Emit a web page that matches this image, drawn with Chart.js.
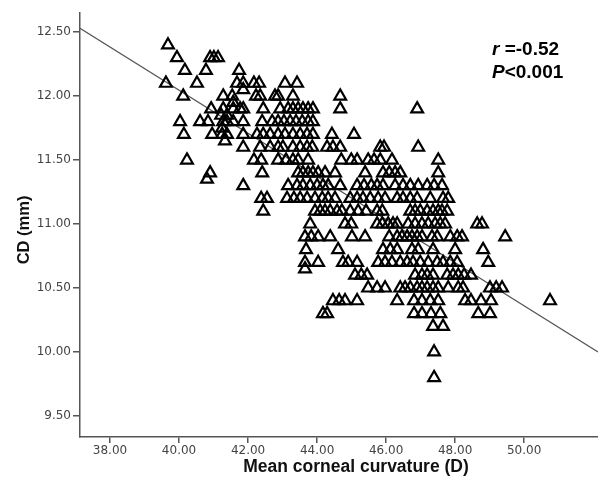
<!DOCTYPE html>
<html>
<head>
<meta charset="utf-8">
<script src="https://cdn.jsdelivr.net/npm/chart.js@4.4.1/dist/chart.umd.min.js"></script>
<style>
  html, body { margin: 0; padding: 0; background: #fff; overflow: hidden; }
  #wrap { width: 598px; height: 478px; position: relative; }
</style>
</head>
<body>
<div id="wrap"><canvas id="scatter"></canvas></div>
<script>
// === data ===
// CD (mm) level of each row of points
const cdLevels = [12.4, 12.3, 12.2, 12.1, 12.05, 12.0, 11.95, 11.9, 11.85, 11.8, 11.75, 11.7, 11.65, 11.6,
  11.5, 11.4, 11.35, 11.3, 11.2, 11.1, 11.0, 10.9, 10.8, 10.7, 10.65, 10.6, 10.5, 10.4, 10.3, 10.2, 10.0, 9.8];

// mean corneal curvature (D) of each point, one list per CD row
const kRows = [
  [39.68],
  [39.94, 40.90, 41.01, 41.13],
  [40.17, 40.78, 41.74],
  [39.62, 40.52, 41.68, 41.86, 42.17, 42.32, 43.07, 43.42],
  [41.86],
  [40.12, 41.28, 41.54, 42.23, 42.35, 42.78, 42.87, 43.30, 44.67],
  [41.57],
  [40.93, 41.28, 41.57, 41.77, 41.86, 42.44, 42.93, 43.16, 43.30, 43.45, 43.59, 43.74, 43.88, 44.67, 46.90],
  [41.22, 41.39],
  [40.03, 40.61, 40.84, 41.28, 41.39, 41.57, 41.86, 42.41, 42.70, 42.87, 43.04, 43.22, 43.39, 43.57, 43.74, 43.88],
  [41.25],
  [40.14, 40.96, 41.25, 41.39, 41.86, 42.26, 42.44, 42.64, 42.87, 43.07, 43.30, 43.51, 43.71, 43.88, 44.43, 45.07],
  [41.33],
  [41.86, 42.35, 42.64, 42.87, 43.01, 43.30, 43.51, 43.71, 43.86, 44.29, 44.46, 44.67, 45.83, 45.94, 46.93],
  [40.23, 42.17, 42.38, 42.87, 43.10, 43.30, 43.45, 43.74, 44.70, 44.99, 45.16, 45.48, 45.65, 45.83, 46.17, 47.51],
  [40.90, 42.41, 43.45, 43.59, 43.74, 43.88, 44.03, 44.23, 44.52, 45.39, 45.91, 46.09, 46.26, 46.41, 47.51],
  [40.81],
  [41.86, 43.16, 43.42, 43.59, 43.80, 44.00, 44.17, 44.32, 44.67, 45.16, 45.36, 45.57, 45.74, 45.91, 46.26, 46.49, 46.70, 46.93, 47.19, 47.39, 47.62],
  [42.38, 42.55, 43.13, 43.33, 43.51, 43.71, 43.94, 44.15, 44.32, 44.52, 44.96, 45.16, 45.33, 45.54, 45.77, 45.97, 46.32, 46.49, 46.70, 46.90, 47.28, 47.65, 47.80],
  [42.44, 43.94, 44.09, 44.23, 44.38, 44.58, 44.72, 44.96, 45.19, 45.42, 45.74, 45.89, 46.70, 46.84, 46.99, 47.19, 47.36, 47.51, 47.62, 47.77],
  [43.80, 44.81, 44.99, 45.74, 45.89, 46.06, 46.20, 46.32, 46.64, 46.84, 47.04, 47.22, 47.42, 47.57, 47.71, 48.64, 48.78],
  [43.65, 43.83, 44.03, 44.38, 45.01, 45.39, 46.09, 46.32, 46.46, 46.61, 46.75, 46.90, 47.04, 47.33, 47.48, 47.86, 48.06, 48.20, 49.45],
  [43.68, 44.61, 45.91, 46.12, 46.32, 46.75, 46.93, 47.36, 48.00, 48.81],
  [43.65, 44.03, 44.75, 44.90, 45.16, 45.77, 45.97, 46.17, 46.41, 46.61, 46.78, 46.99, 47.22, 47.48, 47.65, 47.86, 48.06, 48.96],
  [43.65],
  [45.10, 45.28, 45.45, 46.84, 47.04, 47.19, 47.36, 47.77, 47.94, 48.09, 48.26, 48.46],
  [45.48, 45.74, 45.97, 46.41, 46.55, 46.70, 46.90, 47.04, 47.19, 47.36, 47.51, 47.80, 48.09, 48.23, 49.01, 49.19, 49.36],
  [44.46, 44.64, 44.81, 45.16, 46.32, 46.81, 47.04, 47.28, 47.51, 48.29, 48.46, 48.75, 49.04, 50.75],
  [44.17, 44.29, 46.81, 47.04, 47.30, 47.57, 48.67, 49.01],
  [47.36, 47.65],
  [47.39],
  [47.39]
];

// fit line end points (left and right edge of the plot)
const fitK  = [37.13, 52.14];
const fitCD = [12.53, 10.00];

// axis ranges and tick values
const kMin = 37.13, kMax = 52.14;
const cdMin = 9.336, cdMax = 12.65;
const kTicks  = [38, 40, 42, 44, 46, 48, 50];
const cdTicks = [9.5, 10.0, 10.5, 11.0, 11.5, 12.0, 12.5];

// === build the point list ===
const points = [];
kRows.forEach((row, i) => {
  row.forEach(k => points.push({ x: k, y: cdLevels[i] }));
});
const fitLine = fitK.map((k, i) => ({ x: k, y: fitCD[i] }));

// r / P text in the upper right corner + axis titles
const extraText = {
  id: 'extraText',
  afterDraw(chart){
    const c = chart.ctx;
    c.save();
    c.fillStyle = '#000';
    c.textBaseline = 'alphabetic';
    c.textAlign = 'left';
    c.font = 'italic bold 19px "Liberation Sans"';
    c.fillText('r', 492, 55);
    let w = c.measureText('r').width;
    c.font = 'bold 19px "Liberation Sans"';
    c.fillText(' =-0.52', 492 + w, 55);
    c.font = 'italic bold 19px "Liberation Sans"';
    c.fillText('P', 492, 78);
    w = c.measureText('P').width;
    c.font = 'bold 19px "Liberation Sans"';
    c.fillText('<0.001', 492 + w, 78);

    // axis titles
    c.fillStyle = '#111';
    c.textAlign = 'center';
    c.textBaseline = 'middle';
    c.font = 'bold 17.5px "Liberation Sans"';
    c.fillText('Mean corneal curvature (D)', 356, 467);
    c.font = 'bold 16.5px "Liberation Sans"';
    c.translate(24, 230);
    c.rotate(-Math.PI / 2);
    c.fillText('CD (mm)', 0, 0);
    c.restore();
  }
};

const axisColor = '#555';
const tickFont = { family: 'DejaVu Sans', size: 12 };

new Chart(document.getElementById('scatter'), {
  type: 'scatter',
  data: {
    datasets: [
      {
        label: 'CD',
        data: points,
        pointStyle: 'triangle',
        pointRadius: 6.8,
        pointBorderWidth: 2.2,
        pointBorderColor: '#000',
        pointBackgroundColor: 'rgba(0,0,0,0)',
        order: 1
      },
      {
        label: 'fit',
        data: fitLine,
        showLine: true,
        borderColor: '#555',
        borderWidth: 1.2,
        pointRadius: 0,
        order: 2
      }
    ]
  },
  options: {
    responsive: true,
    maintainAspectRatio: false,
    animation: false,
    layout: { autoPadding: false, padding: { top: 13, right: 0, left: 0, bottom: 0 } },
    plugins: { legend: { display: false }, tooltip: { enabled: false } },
    scales: {
      x: {
        type: 'linear',
        min: kMin, max: kMax,
        afterFit: s => { s.height = 41; s.paddingLeft = 0; s.paddingRight = 0; },
        afterBuildTicks: s => { s.ticks = kTicks.map(v => ({ value: v })); },
        border: { display: true, color: axisColor, width: 1.5 },
        grid: { display: true, drawOnChartArea: false, drawTicks: true, tickLength: 6, color: axisColor, lineWidth: 1.5 },
        ticks: { color: '#444', font: tickFont, padding: 1, maxRotation: 0, autoSkip: false,
                 callback: v => Number(v).toFixed(2) },
        title: { display: false }
      },
      y: {
        type: 'linear',
        min: cdMin, max: cdMax,
        afterFit: s => { s.width = 80; s.paddingTop = 0; s.paddingBottom = 0; },
        afterBuildTicks: s => { s.ticks = cdTicks.map(v => ({ value: v })); },
        border: { display: true, color: axisColor, width: 1.5 },
        grid: { display: true, drawOnChartArea: false, drawTicks: true, tickLength: 7, color: axisColor, lineWidth: 1.5 },
        ticks: { color: '#444', font: tickFont, padding: 2, autoSkip: false,
                 callback: v => Number(v).toFixed(2) },
        title: { display: false }
      }
    }
  },
  plugins: [extraText]
});
</script>
</body>
</html>
